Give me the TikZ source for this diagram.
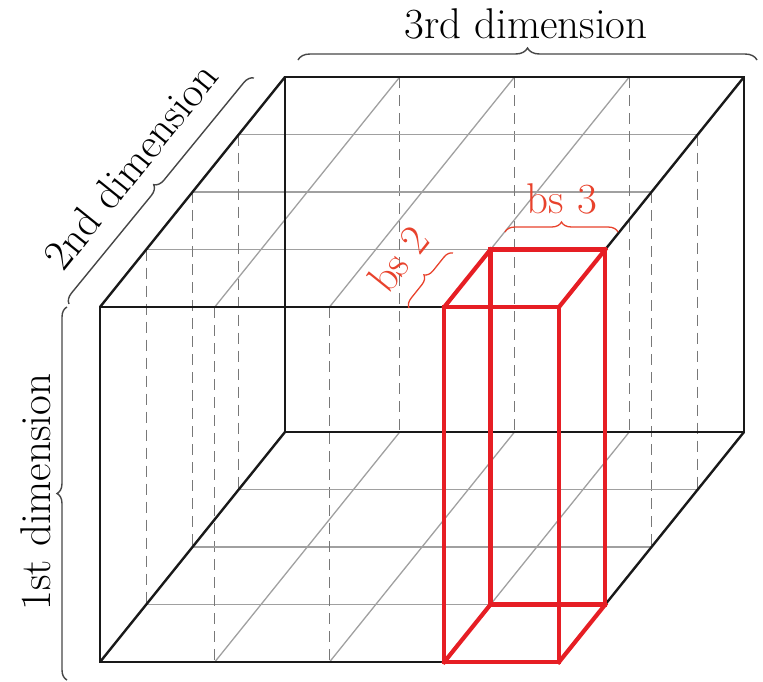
\documentclass[tikz,border=0pt]{standalone}
\usepackage{fontspec}
\usetikzlibrary{decorations.pathreplacing,calc}
\definecolor{edgeblack}{RGB}{25,25,25}
\definecolor{boxred}{RGB}{230,30,36}
\definecolor{bracered}{RGB}{232,66,44}
\definecolor{gridgrey}{RGB}{160,160,160}
\definecolor{dashgrey}{RGB}{120,120,120}
\definecolor{bracedark}{RGB}{70,70,70}
\begin{document}
\begin{tikzpicture}[x=1pt,y=-1pt,
  edge/.style={draw=edgeblack,line width=2.4pt},
  gridline/.style={draw=gridgrey,line width=1.3pt},
  dashline/.style={draw=dashgrey,line width=1.3pt,dash pattern=on 11pt off 7pt},
  redbox/.style={draw=boxred,line width=4.2pt,line join=miter,line cap=rect},
  greybrace/.style={draw=bracedark,line width=1.4pt,decorate,decoration={brace,amplitude=#1}},
  redbrace/.style={draw=bracered,line width=1.3pt,decorate,decoration={brace,amplitude=#1}},
  dimtext/.style={font=\fontsize{43}{50}\selectfont,inner sep=0pt,anchor=base}
]
\useasboundingbox (0,0) rectangle (763,681);
% cube corners
\coordinate (ftl) at (100,307);
\coordinate (ftr) at (559,307);
\coordinate (fbl) at (100,662);
\coordinate (fbr) at (559,662);
\coordinate (btl) at (285,77);
\coordinate (btr) at (744,77);
\coordinate (bbl) at (285,432);
\coordinate (bbr) at (744,432);
% grid
\foreach \k in {1,2,3} {
  \draw[gridline] ($(ftl)!\k/4!(btl)$) -- ($(ftr)!\k/4!(btr)$);
  \draw[gridline] ($(fbl)!\k/4!(bbl)$) -- ($(fbr)!\k/4!(bbr)$);
  \draw[gridline] ($(ftl)!\k/4!(ftr)$) -- ($(btl)!\k/4!(btr)$);
  \draw[gridline] ($(fbl)!\k/4!(fbr)$) -- ($(bbl)!\k/4!(bbr)$);
  \draw[dashline] ($(ftl)!\k/4!(btl)$) -- ($(fbl)!\k/4!(bbl)$);
  \draw[dashline] ($(ftr)!\k/4!(btr)$) -- ($(fbr)!\k/4!(bbr)$);
  \draw[dashline] ($(ftl)!\k/4!(ftr)$) -- ($(fbl)!\k/4!(fbr)$);
  \draw[dashline] ($(btl)!\k/4!(btr)$) -- ($(bbl)!\k/4!(bbr)$);
}
% cube edges
\draw[edge] (btl) -- (btr) -- (bbr) -- (bbl) -- cycle;
\draw[edge] (ftl) -- (ftr) -- (fbr) -- (fbl) -- cycle;
\draw[edge] (ftl) -- (btl);
\draw[edge] (ftr) -- (btr);
\draw[edge] (fbl) -- (bbl);
\draw[edge] (fbr) -- (bbr);
% red block
\coordinate (rftl) at ($(ftl)!3/4!(ftr)$);
\coordinate (rfbl) at ($(fbl)!3/4!(fbr)$);
\coordinate (rbtl) at ($(rftl)+(46.25,-57.5)$);
\coordinate (rbtr) at ($(ftr)+(46.25,-57.5)$);
\coordinate (rbbl) at ($(rfbl)+(46.25,-57.5)$);
\coordinate (rbbr) at ($(fbr)+(46.25,-57.5)$);
\draw[redbox] (rbtl) -- (rbtr) -- (rbbr) -- (rbbl) -- cycle;
\draw[redbox] (rftl) -- (ftr) -- (fbr) -- (rfbl) -- cycle;
\draw[redbox] (rftl) -- (rbtl);
\draw[redbox] (ftr) -- (rbtr);
\draw[redbox] (rfbl) -- (rbbl);
\draw[redbox] (fbr) -- (rbbr);
% braces
\coordinate (b3s) at (298,60);
\coordinate (b3e) at (757,60);
\coordinate (b2s) at (69,304);
\coordinate (b2e) at (254,78);
\coordinate (b1s) at (67,680);
\coordinate (b1e) at (67,307);
\coordinate (bs3s) at (505,232);
\coordinate (bs3e) at (618,232);
\coordinate (bs2s) at (409,308);
\coordinate (bs2e) at (453,253);
\draw[greybrace=12pt] (b3s) -- (b3e);
\draw[greybrace=10pt] (b2s) -- (b2e);
\draw[greybrace=10pt] (b1s) -- (b1e);
\draw[redbrace=10pt] (bs3s) -- (bs3e);
\draw[redbrace=9pt] (bs2s) -- (bs2e);
% labels
\node[dimtext] (t3) at (526,38) {3rd dimension};
\node[dimtext,rotate=90] (t1) at (50,492) {1st dimension};
\node[dimtext,rotate=51.2] (t2) at (142,175) {2nd dimension};
\node[dimtext,text=bracered] (tb3) at (562,213) {bs 3};
\node[dimtext,text=bracered,rotate=51.2] (tb2) at (410,268) {bs 2};
\end{tikzpicture}
\end{document}
